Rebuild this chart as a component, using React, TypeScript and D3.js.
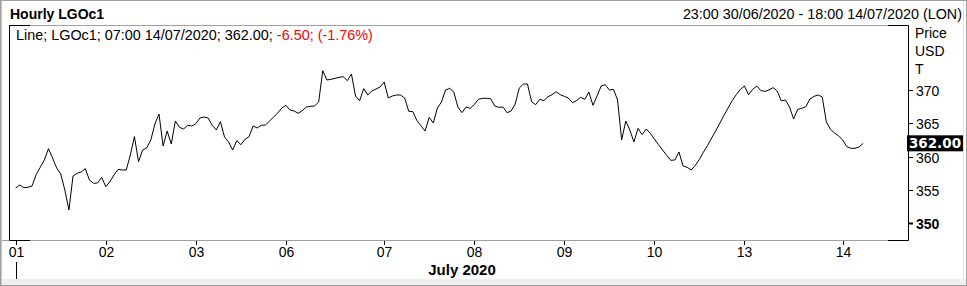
import React from "react";
import * as d3 from "d3";

const W = 967;
const H = 286;

// Hourly prices, 23:00 30/06/2020 .. 07:00 14/07/2020 (trading hours only)
const prices: number[] = [
  355.3, 355.75, 355.35, 355.4, 355.6, 357.3, 358.4, 359.5, 361.2, 359.8,
  358.3, 357.4, 355.0, 352.0, 357.1, 357.5, 357.7, 358.2, 356.5, 356.0,
  356.05, 356.9, 355.5, 356.25, 357.25, 358.1, 358.0, 358.0, 360.25, 363.0,
  359.25, 361.0, 361.3, 362.5, 364.9, 366.4, 361.6, 363.85, 361.9, 365.35,
  364.4, 364.15, 364.7, 364.6, 364.95, 365.8, 365.95, 365.8, 364.7, 364.0,
  365.25, 362.95, 362.2, 361.0, 362.4, 361.8, 362.6, 363.0, 364.6, 364.3,
  364.7, 364.75, 365.35, 365.95, 366.55, 367.3, 367.7, 367.0, 366.85, 366.5,
  366.9, 367.45, 367.55, 367.6, 368.2, 372.9, 371.5, 371.6, 371.75, 371.9,
  372.0, 371.4, 372.4, 369.1, 368.4, 370.2, 369.25, 369.85, 370.15, 370.45,
  371.2, 368.8, 369.1, 369.25, 369.25, 368.8, 366.8, 366.75, 365.4, 364.6,
  363.85, 365.9, 365.05, 367.3, 368.2, 370.0, 370.25, 369.7, 367.45, 366.6,
  367.45, 367.25, 367.8, 368.6, 368.75, 368.75, 368.7, 367.6, 367.4, 367.45,
  366.6, 366.85, 367.9, 370.3, 370.9, 370.9, 368.25, 367.8, 368.6, 368.4,
  368.98, 369.3, 369.75, 369.3, 369.05, 368.8, 368.1, 368.4, 368.9, 368.6,
  369.7, 367.7, 369.1, 370.6, 370.8, 370.0, 370.1, 368.5, 362.5, 365.35,
  364.0, 362.2, 364.25, 363.3, 364.15, 363.5, 362.65, 361.8, 361.0, 360.2,
  359.45, 359.5, 360.7, 358.6, 358.4, 358.0, 358.7, 359.6, 360.7, 361.7,
  362.8, 363.9, 365.05, 366.2, 367.3, 368.4, 369.3, 370.1, 370.6, 369.3,
  370.1, 370.6, 369.9, 369.8, 370.0, 370.35, 369.85, 368.35, 368.5, 367.45,
  365.65, 367.1, 367.25, 367.5, 368.65, 369.05, 369.25, 368.95, 365.2, 364.1,
  363.55, 363.1, 362.5, 361.5, 361.25, 361.25, 361.45, 362.0,
];

const dayLabels: string[] = ["01", "02", "03", "06", "07", "08", "09", "10", "13", "14"];
const dayIndex: number[] = [0, 22, 44, 66, 90, 112, 134, 156, 178, 202];

const yTicks: number[] = [350, 355, 360, 365, 370];
const lastPrice = 362.0;

const title = "Hourly LGOc1";
const rangeText = "23:00 30/06/2020 - 18:00 14/07/2020 (LON)";
const legendMain = "Line; LGOc1; 07:00 14/07/2020; 362.00; ";
const legendChange = "-6.50; (-1.76%)";
const monthLabel = "July 2020";
const unitLabels: string[] = ["Price", "USD", "T"];

const FONT = "'Liberation Sans', Arial, sans-serif";

export default function App() {
  const plotL = 9.5;
  const plotR = 908.5;
  const plotT = 25.5;
  const plotB = 240.5;

  const x = d3.scaleLinear().domain([0, prices.length - 1]).range([15.7, 863.2]);
  const y = d3.scaleLinear().domain([350, 370]).range([223.3, 90]);

  const line = d3
    .line<number>()
    .x((_, i) => x(i))
    .y((d) => y(d));

  return (
    <svg
      width={W}
      height={H}
      style={{ position: "absolute", left: 0, top: 0, background: "#fff" }}
      fontFamily={FONT}
    >
      {/* outer frame */}
      <rect x={0} y={0} width={W} height={H} fill="#fff" />
      <rect x={0} y={279} width={W} height={7} fill="#f0f0f0" />
      <line x1={963.5} x2={963.5} y1={0} y2={279} stroke="#e3e3e3" />
      <rect x={0.5} y={0.5} width={W - 1} height={H - 1} fill="none" stroke="#a0a0a0" />
      <line x1={1.5} x2={1.5} y1={1} y2={H - 1} stroke="#c8c8c8" />

      {/* header */}
      <text x={10} y={19} fontSize={14} fontWeight="bold" fill="#000">
        {title}
      </text>
      <text x={962} y={19} fontSize={14.35} textAnchor="end" fill="#000">
        {rangeText}
      </text>

      {/* plot frame */}
      <line x1={plotL} x2={plotR} y1={plotT} y2={plotT} stroke="#a0a0a0" />
      <line x1={2} x2={plotR} y1={plotB} y2={plotB} stroke="#a0a0a0" />
      <path
        d={`M${plotL},${plotT + 6}V${plotT}H30M888,${plotT}H${plotR}V${plotB}H888M30,${plotB}H${plotL}V${plotT}`}
        fill="none"
        stroke="#000"
      />

      {/* legend */}
      <text x={16} y={40} fontSize={14.4} fill="#000">
        <tspan>{legendMain}</tspan>
        <tspan fill="#ff0000">{legendChange}</tspan>
      </text>

      {/* price line */}
      <path d={line(prices) || ""} fill="none" stroke="#000" strokeWidth={1} />

      {/* y axis */}
      {unitLabels.map((u, i) => (
        <text key={u} x={915} y={38 + i * 18} fontSize={14} fill="#000">
          {u}
        </text>
      ))}
      {yTicks.map((t) => {
        const yy = Math.round(y(t)) + 0.5;
        const bold = t === 350;
        return (
          <g key={t}>
            <line x1={plotR} x2={913} y1={yy} y2={yy} stroke="#000" strokeWidth={bold ? 2 : 1} />
            <text
              x={916}
              y={yy}
              dy="0.36em"
              fontSize={14}
              fontWeight={bold ? "bold" : "normal"}
              fill="#000"
            >
              {t}
            </text>
          </g>
        );
      })}
      <rect x={907} y={y(lastPrice) - 8} width={56} height={16} fill="#000" />
      <text
        x={935}
        y={y(lastPrice)}
        dy="0.36em"
        textAnchor="middle"
        fontSize={13.5}
        fontWeight="bold"
        fontFamily="'DejaVu Sans', Verdana, sans-serif"
        fill="#fff"
      >
        {lastPrice.toFixed(2)}
      </text>

      {/* x axis */}
      {dayIndex.map((di, i) => {
        const xx = Math.round(x(di)) + 0.5;
        return (
          <g key={dayLabels[i]}>
            <line x1={xx} x2={xx} y1={241} y2={245} stroke="#000" />
            <text x={xx} y={257} fontSize={14} textAnchor="middle" fill="#000">
              {dayLabels[i]}
            </text>
          </g>
        );
      })}
      <line
        x1={Math.round(x(dayIndex[0])) + 0.5}
        x2={Math.round(x(dayIndex[0])) + 0.5}
        y1={262}
        y2={279}
        stroke="#000"
      />
      <text x={462} y={275} fontSize={15} fontWeight="bold" textAnchor="middle" fill="#000">
        {monthLabel}
      </text>
    </svg>
  );
}
